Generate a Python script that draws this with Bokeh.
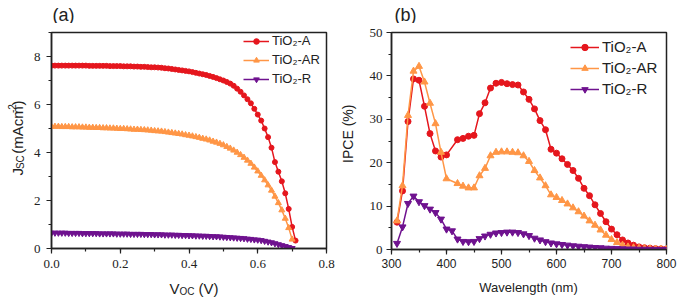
import math
from bokeh.plotting import figure
from bokeh.models import (Label, Legend, LegendItem, SingleIntervalTicker,
                          PrintfTickFormatter, Range1d)
from bokeh.layouts import row, column
from bokeh.embed import file_html
from bokeh.resources import INLINE

# ---------------- data: panel (a) J-V curves ----------------
v_A = [round(i * 0.01, 2) for i in range(72)]          # 0.00 .. 0.71 V
j_A = [7.62, 7.62, 7.62, 7.62, 7.62, 7.62, 7.62, 7.62, 7.62, 7.62,
       7.62, 7.61, 7.61, 7.61, 7.61, 7.61, 7.61, 7.60, 7.60, 7.60,
       7.60, 7.59, 7.59, 7.59, 7.58, 7.58, 7.57, 7.57, 7.56, 7.55,
       7.55, 7.54, 7.53, 7.51, 7.50, 7.48, 7.46, 7.44, 7.42, 7.40,
       7.38, 7.35, 7.32, 7.29, 7.26, 7.23, 7.19, 7.15, 7.10, 7.05,
       7.00, 6.94, 6.87, 6.78, 6.66, 6.53, 6.38, 6.22, 6.05, 5.82,
       5.58, 5.33, 5.00, 4.64, 4.20, 3.60, 3.20, 2.80, 2.30, 1.65,
       0.90, 0.33]
v_AR = [round(i * 0.01, 2) for i in range(71)]         # 0.00 .. 0.70 V
j_AR = [5.08, 5.08, 5.08, 5.07, 5.07, 5.07, 5.06, 5.06, 5.06, 5.05,
        5.05, 5.04, 5.04, 5.03, 5.03, 5.02, 5.02, 5.01, 5.01, 5.00,
        4.99, 4.99, 4.98, 4.97, 4.96, 4.96, 4.95, 4.94, 4.93, 4.92,
        4.90, 4.89, 4.88, 4.86, 4.84, 4.82, 4.80, 4.78, 4.76, 4.73,
        4.71, 4.68, 4.65, 4.62, 4.58, 4.55, 4.51, 4.46, 4.42, 4.37,
        4.31, 4.24, 4.17, 4.09, 4.00, 3.90, 3.79, 3.67, 3.54, 3.38,
        3.22, 3.04, 2.85, 2.64, 2.42, 2.17, 1.90, 1.60, 1.25, 0.86,
        0.38]
v_R = [round(i * 0.01, 2) for i in range(71)]          # 0.00 .. 0.70 V
j_R = [0.65, 0.65, 0.65, 0.65, 0.65, 0.64, 0.64, 0.64, 0.64, 0.63,
       0.63, 0.63, 0.63, 0.63, 0.62, 0.62, 0.62, 0.62, 0.62, 0.61,
       0.61, 0.61, 0.61, 0.60, 0.60, 0.60, 0.60, 0.59, 0.59, 0.59,
       0.58, 0.58, 0.58, 0.57, 0.57, 0.57, 0.56, 0.56, 0.55, 0.55,
       0.54, 0.54, 0.53, 0.53, 0.52, 0.52, 0.51, 0.50, 0.50, 0.49,
       0.48, 0.47, 0.46, 0.45, 0.44, 0.43, 0.42, 0.40, 0.39, 0.37,
       0.36, 0.34, 0.31, 0.28, 0.25, 0.21, 0.17, 0.13, 0.09, 0.05,
       0.01]

# ---------------- data: panel (b) IPCE spectra ----------------
wl_A = [310, 320, 330, 340, 350, 360, 370, 380, 390, 400,
        420, 430, 440, 450, 460, 470, 480, 490, 500, 510,
        520, 530, 540, 550, 560, 570, 580, 590, 600, 610,
        620, 630, 640, 650, 660, 670, 680, 690, 700, 710,
        720, 730, 740, 750, 760, 770, 780, 790, 800]
ipce_A = [6.3, 13.5, 29.5, 39.3, 39.0, 33.0, 26.7, 22.7, 21.3, 21.8,
          25.3, 25.6, 26.1, 26.3, 31.3, 33.8, 37.2, 38.3, 38.5, 38.2,
          38.0, 37.9, 36.3, 34.6, 32.4, 29.7, 27.6, 23.1, 22.2, 20.9,
          19.6, 18.2, 16.4, 14.1, 12.4, 10.3, 8.3, 6.4, 4.7, 3.4,
          2.2, 1.5, 1.0, 0.6, 0.4, 0.3, 0.2, 0.15, 0.1]
wl_AR = list(wl_A)
ipce_AR = [6.6, 14.7, 30.9, 41.1, 42.2, 38.6, 33.7, 29.0, 22.4, 16.3,
           15.2, 14.6, 14.2, 14.2, 17.0, 18.7, 21.6, 22.4, 22.5, 22.5,
           22.4, 22.3, 21.6, 20.3, 18.2, 16.5, 14.7, 12.6, 12.0, 11.3,
           10.5, 9.6, 8.7, 7.7, 6.6, 5.6, 4.5, 3.3, 2.3, 1.6,
           1.0, 0.6, 0.4, 0.3, 0.2, 0.15, 0.1, 0.1, 0.05]
wl_R = [310, 320, 330, 340, 350, 360, 370, 380, 390, 400,
        410, 420, 430, 440, 450, 460, 470, 480, 490, 500,
        510, 520, 530, 540, 550, 560, 570, 580, 590, 600,
        610, 620, 630, 640, 650, 660, 670, 680, 690, 700,
        710, 720, 730, 740, 750, 760, 770, 780, 790, 800]
ipce_R = [1.4, 5.2, 10.6, 12.3, 11.0, 10.1, 9.3, 8.5, 7.0, 4.7,
          4.3, 2.4, 1.85, 1.8, 1.85, 2.5, 3.1, 3.5, 3.8, 3.9,
          4.0, 4.0, 3.9, 3.6, 3.2, 2.6, 2.2, 1.8, 1.5, 1.3,
          1.15, 1.0, 0.85, 0.75, 0.65, 0.55, 0.45, 0.4, 0.3, 0.25,
          0.2, 0.15, 0.1, 0.1, 0.05, 0.05, 0.03, 0.02, 0.01, 0.0]

labels = ["TiO\u2082-A", "TiO\u2082-AR", "TiO\u2082-R"]

RED = "#e5161d"
ORANGE = "#ff9646"
PURPLE = "#6f128f"
INK = "#222222"
SANS = "Liberation Sans"
SERIF = "Liberation Serif"

# Arial/Liberation Sans advance widths (per 1000 em)
AW = {' ': 278, '(': 333, ')': 333, '-': 333, '%': 889, '2': 556, 'A': 667,
      'C': 722, 'E': 667, 'I': 278, 'J': 500, 'O': 778, 'P': 667, 'S': 667,
      'V': 667, 'W': 944, 'a': 556, 'c': 500, 'e': 556, 'g': 556, 'h': 556,
      'l': 222, 'm': 833, 'n': 556, 't': 278, 'v': 500}


def tw(text, size):
    return sum(AW.get(ch, 556) for ch in text) * size / 1000.0


def strip(w, h):
    """A bare figure used only to hold text; its frame is the whole canvas."""
    s = figure(width=w, height=h, x_range=Range1d(0, w), y_range=Range1d(0, h),
               output_backend="svg", toolbar_location=None, title=None,
               x_axis_type=None, y_axis_type=None,
               min_border=0, min_border_left=0, min_border_right=0,
               min_border_top=0, min_border_bottom=0)
    s.grid.visible = False
    s.outline_line_color = None
    s.background_fill_color = "white"
    s.border_fill_color = "white"
    return s


def text_at(s, x, y, text, size, angle=0.0, align="left"):
    s.add_layout(Label(x=x, y=y, x_units="data", y_units="data", text=text,
                       text_font=SANS, text_font_size=f"{size}px", angle=angle,
                       text_align=align, text_baseline="alphabetic",
                       text_color=INK))


def compose(s, x, y, pieces, vertical=False):
    """Place (text, size, shift, gap_before) pieces in a run centred on (x, y).
    shift > 0 lowers a piece (subscript), shift < 0 raises it."""
    total = sum(tw(t, sz) + g for t, sz, _, g in pieces)
    pos = -total / 2.0
    for t, sz, sh, g in pieces:
        pos += g
        if vertical:
            text_at(s, x + sh, y + pos, t, sz, angle=math.pi / 2)
        else:
            text_at(s, x + pos, y - sh, t, sz)
        pos += tw(t, sz)


def make_fig(w, h, left, right, top, bottom, xr, yr):
    p = figure(width=w, height=h, x_range=Range1d(*xr), y_range=Range1d(*yr),
               output_backend="svg", toolbar_location=None, title=None,
               min_border=0, min_border_left=left, min_border_right=right,
               min_border_top=top, min_border_bottom=bottom)
    p.xgrid.visible = False
    p.ygrid.visible = False
    p.outline_line_color = INK
    p.outline_line_width = 1.5
    p.outline_line_alpha = 1.0
    for ax in (p.xaxis[0], p.yaxis[0]):
        ax.axis_line_width = 1.5
        ax.axis_line_color = INK
        ax.major_tick_line_color = INK
        ax.minor_tick_line_color = INK
        ax.major_tick_line_width = 1.2
        ax.minor_tick_line_width = 1.2
        ax.major_tick_in = 0
        ax.major_tick_out = 5
        ax.minor_tick_in = 0
        ax.minor_tick_out = 3
        ax.major_label_text_color = INK
    p.background_fill_color = "white"
    p.border_fill_color = "white"
    return p


TOP_H, MID_H, BOT_H = 23, 253, 24
SP = tw(" ", 15)

# ---------------- panel (a) ----------------
pa = make_fig(310, MID_H, 20, 14, 9, 28, (0, 0.8), (0, 9))
pa.xaxis[0].ticker = SingleIntervalTicker(interval=0.2, num_minor_ticks=2)
pa.yaxis[0].ticker = SingleIntervalTicker(interval=2, num_minor_ticks=2)
pa.xaxis[0].formatter = PrintfTickFormatter(format="%.1f")
pa.yaxis[0].formatter = PrintfTickFormatter(format="%d")
for ax in (pa.xaxis[0], pa.yaxis[0]):
    ax.major_label_text_font = SERIF
    ax.major_label_text_font_size = "13px"
    ax.major_label_standoff = 6

la1 = pa.line(v_A, j_A, line_color=RED, line_width=1.5)
sa1 = pa.scatter(v_A, j_A, marker="circle", size=5, fill_color=RED, line_color=RED)
la2 = pa.line(v_AR, j_AR, line_color=ORANGE, line_width=1.5)
sa2 = pa.scatter(v_AR, j_AR, marker="triangle", size=6, fill_color=ORANGE, line_color=ORANGE)
la3 = pa.line(v_R, j_R, line_color=PURPLE, line_width=1.5)
sa3 = pa.scatter(v_R, j_R, marker="inverted_triangle", size=6, fill_color=PURPLE, line_color=PURPLE)

leg_a = Legend(items=[LegendItem(label=labels[0], renderers=[la1, sa1]),
                      LegendItem(label=labels[1], renderers=[la2, sa2]),
                      LegendItem(label=labels[2], renderers=[la3, sa3])],
               location=(192, 162), padding=0, margin=0, spacing=4,
               glyph_width=26, glyph_height=14, label_height=14,
               label_standoff=3, label_text_font=SANS,
               label_text_font_size="13px", label_text_color=INK,
               background_fill_alpha=0, border_line_alpha=0)
pa.add_layout(leg_a)

top_a = strip(340, TOP_H)
text_at(top_a, 52, 9, "(a)", 18)
left_a = strip(30, MID_H)
compose(left_a, 17, 129, [("J", 15, 0, 0), ("SC", 10, 3, 0), ("(mAcm", 15, 0, SP),
                          ("-2", 10, -6, 0), (")", 15, 0, 0)], vertical=True)
bot_a = strip(340, BOT_H)
compose(bot_a, 193.5, 12, [("V", 15, 0, 0), ("OC", 10, 3, 0), ("(V)", 15, 0, SP)])

panel_a = column(top_a, row(left_a, pa), bot_a)

# ---------------- panel (b) ----------------
pb = make_fig(324, MID_H, 31, 18, 9, 27, (300, 800), (0, 50))
pb.xaxis[0].ticker = SingleIntervalTicker(interval=100, num_minor_ticks=2)
pb.yaxis[0].ticker = SingleIntervalTicker(interval=10, num_minor_ticks=2)
pb.xaxis[0].major_label_text_font = SANS
pb.xaxis[0].major_label_text_font_size = "12px"
pb.xaxis[0].major_label_standoff = 4
pb.yaxis[0].major_label_text_font = SERIF
pb.yaxis[0].major_label_text_font_size = "13px"
pb.yaxis[0].major_label_standoff = 4

lb1 = pb.line(wl_A, ipce_A, line_color=RED, line_width=1.5)
sb1 = pb.scatter(wl_A, ipce_A, marker="circle", size=6, fill_color=RED, line_color=RED)
lb2 = pb.line(wl_AR, ipce_AR, line_color=ORANGE, line_width=1.5)
sb2 = pb.scatter(wl_AR, ipce_AR, marker="triangle", size=7, fill_color=ORANGE, line_color=ORANGE)
lb3 = pb.line(wl_R, ipce_R, line_color=PURPLE, line_width=1.5)
sb3 = pb.scatter(wl_R, ipce_R, marker="inverted_triangle", size=7, fill_color=PURPLE, line_color=PURPLE)

leg_b = Legend(items=[LegendItem(label=labels[0], renderers=[lb1, sb1]),
                      LegendItem(label=labels[1], renderers=[lb2, sb2]),
                      LegendItem(label=labels[2], renderers=[lb3, sb3])],
               location=(179, 152), padding=0, margin=0, spacing=4,
               glyph_width=29, glyph_height=16, label_height=16,
               label_standoff=3, label_text_font=SANS,
               label_text_font_size="15px", label_text_color=INK,
               background_fill_alpha=0, border_line_alpha=0)
pb.add_layout(leg_b)

top_b = strip(344, TOP_H)
text_at(top_b, 54, 9, "(b)", 18)
left_b = strip(20, MID_H)
text_at(left_b, 7, 135, "IPCE (%)", 14, angle=math.pi / 2, align="center")
bot_b = strip(344, BOT_H)
text_at(bot_b, 188, 13, "Wavelength (nm)", 13, align="center")

panel_b = column(top_b, row(left_b, pb), bot_b)

layout = row(panel_a, panel_b)
open("out.html", "w").write(file_html(layout, INLINE))
